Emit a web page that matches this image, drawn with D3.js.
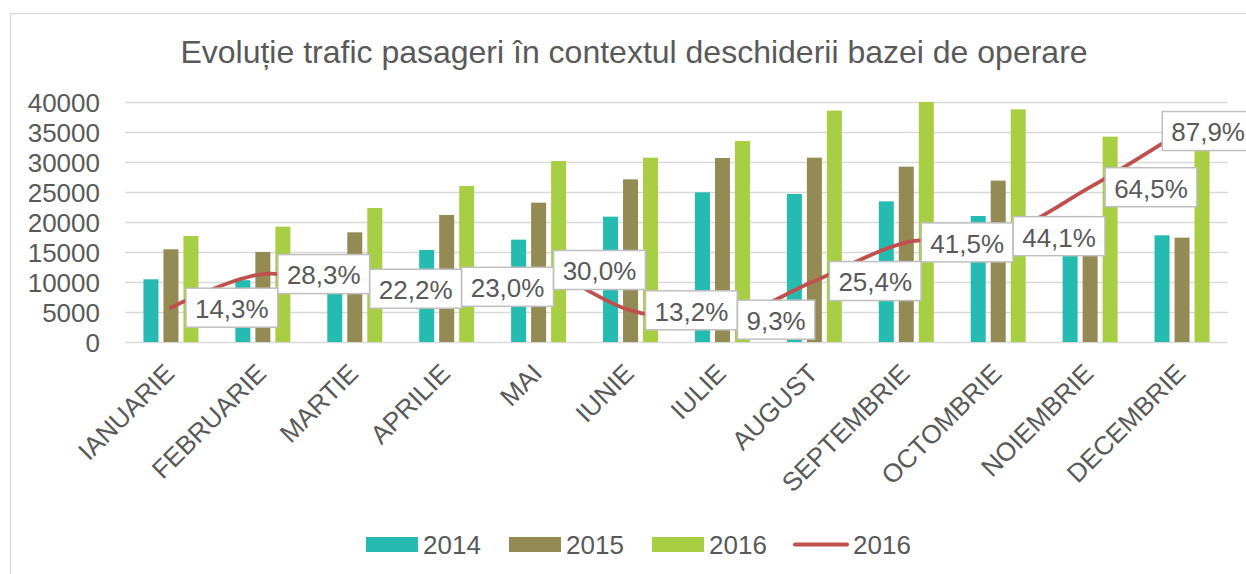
<!DOCTYPE html>
<html>
<head>
<meta charset="utf-8">
<script src="https://cdn.jsdelivr.net/npm/d3@7"></script>
<style>
  html, body { margin: 0; padding: 0; background: #fff; }
  svg { display: block; font-family: "Liberation Sans", Arial, sans-serif; }
</style>
</head>
<body>
<svg id="chart" width="1246" height="574"></svg>
<script>
const months = ["IANUARIE","FEBRUARIE","MARTIE","APRILIE","MAI","IUNIE","IULIE","AUGUST","SEPTEMBRIE","OCTOMBRIE","NOIEMBRIE","DECEMBRIE"];
const seriesNames = ["2014","2015","2016"];
const v2014 = [10450, 10300, 12500, 15330, 17060, 20890, 24940, 24670, 23440, 21000, 17000, 17780];
const v2015 = [15450, 15000, 18280, 21170, 23220, 27110, 30670, 30720, 29220, 26900, 20800, 17390];
const v2016 = [17670, 19220, 22330, 26000, 30170, 30720, 33500, 38560, 41350, 38770, 34220, 32680];
const growth2016 = [14.3, 28.3, 22.2, 23.0, 30.0, 13.2, 9.3, 25.4, 41.5, 44.1, 64.5, 87.9];
const lineName = "2016";
const yTicks = [0, 5000, 10000, 15000, 20000, 25000, 30000, 35000, 40000];
const titleText = "Evoluție trafic pasageri în contextul deschiderii bazei de operare";

const barColors = ["#26BBB0", "#948A54", "#A8CE44"];
const lineColor = "#C0504D";
const textColor = "#595959";
const gridColor = "#D9D9D9";

const svg = d3.select("#chart");
const plot = {left: 125, right: 1228, top: 102, bottom: 342};

// chart border
svg.append("rect").attr("x", 10.5).attr("y", 13.5).attr("width", 1300).attr("height", 620)
  .attr("fill", "#fff").attr("stroke", gridColor).attr("stroke-width", 1.3);

// title
svg.append("text").attr("x", 634).attr("y", 63).attr("text-anchor", "middle")
  .attr("font-size", 32).attr("fill", textColor).text(titleText);

const x0 = d3.scaleBand().domain(months).range([plot.left, plot.right]).paddingInner(0).paddingOuter(0);
const x1 = d3.scaleBand().domain(seriesNames).range([-27.5, 27.5]).paddingInner(0.25).paddingOuter(0);
const y = d3.scaleLinear().domain([0, 40000]).range([plot.bottom, plot.top]).clamp(true);
const y2 = d3.scaleLinear().domain([0, 100]).range([plot.bottom, plot.top]);

// gridlines
svg.append("g").selectAll("line").data(yTicks).join("line")
  .attr("x1", plot.left).attr("x2", plot.right)
  .attr("y1", d => Math.round(y(d)) + 0.5).attr("y2", d => Math.round(y(d)) + 0.5)
  .attr("stroke", gridColor).attr("stroke-width", 1.3);

// y axis
const yAxis = svg.append("g").attr("transform", `translate(${plot.left},0)`)
  .call(d3.axisLeft(y).tickValues(yTicks).tickSize(0).tickPadding(25).tickFormat(d3.format("d")));
yAxis.select(".domain").remove();
yAxis.selectAll("text").attr("font-size", 26).attr("fill", textColor)
  .attr("font-family", "Liberation Sans, Arial, sans-serif").attr("dy", "0.36em");

// x axis
const xAxis = svg.append("g").attr("transform", `translate(0,${plot.bottom})`)
  .call(d3.axisBottom(x0).tickSize(0).tickPadding(0));
xAxis.select(".domain").remove();
xAxis.selectAll("text").attr("font-size", 26).attr("fill", textColor)
  .attr("font-family", "Liberation Sans, Arial, sans-serif")
  .attr("x", 0).attr("y", 0).attr("dy", 0)
  .attr("transform", "translate(5,33) rotate(-45)")
  .style("text-anchor", "end");

// bars
const seriesVals = [v2014, v2015, v2016];
const barG = svg.append("g");
seriesNames.forEach((s, si) => {
  barG.append("g").selectAll("rect").data(months).join("rect")
    .attr("x", (m) => x0(m) + x0.bandwidth() / 2 + x1(s))
    .attr("width", x1.bandwidth())
    .attr("y", (m, i) => y(seriesVals[si][i]))
    .attr("height", (m, i) => y(0) - y(seriesVals[si][i]))
    .attr("fill", barColors[si]);
});

// line
const pts = months.map((m, i) => [x0(m) + x0.bandwidth() / 2, y2(growth2016[i])]);
svg.append("path").datum(pts)
  .attr("d", d3.line().curve(d3.curveCardinal.tension(0)))
  .attr("fill", "none").attr("stroke", lineColor).attr("stroke-width", 3.8)
  .attr("stroke-linecap", "round").attr("stroke-linejoin", "round");

// data labels
const chartRight = 1254;
const lblG = svg.append("g");
pts.forEach((p, i) => {
  const g = lblG.append("g");
  const txt = g.append("text").attr("font-size", 26).attr("fill", textColor)
    .attr("text-anchor", "middle").attr("dy", "0.36em")
    .text(d3.format(".1f")(growth2016[i]).replace(".", ",") + "%");
  const tw = txt.node().getComputedTextLength();
  const w = tw + 18, h = 39;
  let bx = p[0] + 15;
  if (bx + w > chartRight) bx = chartRight - w;
  const by = p[1] - h / 2;
  g.insert("rect", "text").attr("x", bx).attr("y", by).attr("width", w).attr("height", h)
    .attr("fill", "#fff").attr("stroke", "#BFBFBF").attr("stroke-width", 1.5);
  txt.attr("x", bx + w / 2).attr("y", p[1] + 1);
});

// legend
const legendItems = [
  {name: seriesNames[0], type: "bar", color: barColors[0]},
  {name: seriesNames[1], type: "bar", color: barColors[1]},
  {name: seriesNames[2], type: "bar", color: barColors[2]},
  {name: lineName, type: "line", color: lineColor}
];
const leg = svg.append("g");
const lx = [366, 509, 652, 793];
legendItems.forEach((d, i) => {
  const g = leg.append("g").attr("transform", `translate(${lx[i]},0)`);
  if (d.type === "bar") {
    g.append("rect").attr("x", 0).attr("y", 537).attr("width", 52).attr("height", 15).attr("fill", d.color);
  } else {
    g.append("line").attr("x1", 2).attr("x2", 54).attr("y1", 544.5).attr("y2", 544.5)
      .attr("stroke", d.color).attr("stroke-width", 4).attr("stroke-linecap", "round");
  }
  g.append("text").attr("x", d.type === "bar" ? 57 : 60).attr("y", 554)
    .attr("font-size", 26).attr("fill", textColor).text(d.name);
});
</script>
</body>
</html>
